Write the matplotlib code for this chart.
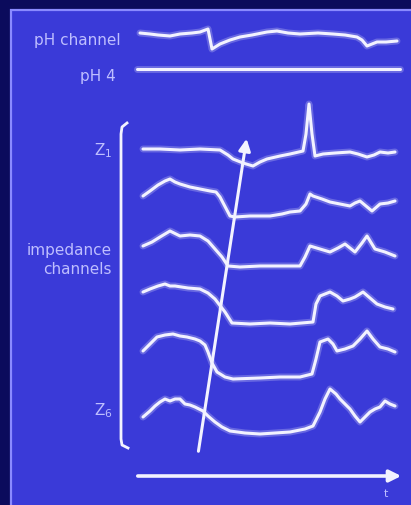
import matplotlib.pyplot as plt
from matplotlib.patches import Rectangle

# pixel-like units, y grows downwards
ph_t = [140, 150, 158, 170, 180, 192, 200, 208, 212, 220, 230, 240, 252, 267, 277, 288, 300, 318, 333, 345, 357, 362, 367, 372, 377, 386, 397]
ph_v = [34, 35, 36, 37, 35, 34, 33, 30, 50, 45, 41, 38, 36, 33, 32, 34, 35, 34, 35, 36, 38, 41, 47, 45, 43, 43, 42]

ph4_t = [137, 400]
ph4_v = [70, 70]

z_t = [
    [143, 160, 180, 200, 220, 228, 233, 243, 253, 260, 267, 280, 290, 303, 306, 309, 312, 315, 323, 335, 350, 358, 367, 374, 380, 388, 395],
    [143, 150, 158, 165, 170, 175, 180, 190, 200, 210, 216, 220, 230, 235, 250, 270, 282, 290, 300, 306, 310, 313, 322, 330, 340, 350, 355, 360, 366, 372, 380, 388, 395],
    [143, 152, 160, 170, 176, 180, 190, 200, 208, 215, 222, 228, 240, 260, 280, 300, 305, 310, 320, 330, 338, 345, 350, 355, 362, 367, 375, 385, 395],
    [143, 150, 158, 165, 170, 175, 188, 200, 208, 215, 225, 232, 250, 270, 290, 313, 316, 320, 325, 330, 337, 343, 350, 355, 363, 370, 377, 385, 393],
    [143, 150, 157, 165, 173, 180, 187, 195, 200, 205, 208, 212, 217, 225, 233, 260, 280, 300, 312, 316, 320, 328, 333, 337, 345, 353, 360, 367, 373, 380, 388, 395],
    [143, 150, 155, 160, 165, 170, 175, 180, 185, 190, 195, 203, 208, 215, 222, 230, 245, 260, 275, 290, 305, 313, 320, 325, 330, 336, 340, 345, 350, 355, 360, 365, 370, 375, 380, 385, 390, 395],
]
z_v = [
    [150, 150, 151, 150, 151, 156, 160, 164, 167, 163, 160, 157, 155, 152, 135, 105, 135, 157, 155, 154, 153, 155, 158, 156, 153, 154, 153],
    [197, 192, 186, 182, 180, 183, 185, 188, 190, 192, 193, 198, 217, 218, 217, 217, 215, 213, 212, 205, 195, 197, 200, 203, 205, 207, 204, 202, 207, 212, 205, 204, 202],
    [247, 243, 238, 232, 235, 237, 236, 237, 242, 250, 258, 267, 268, 267, 267, 267, 258, 247, 250, 253, 249, 245, 249, 253, 244, 237, 250, 253, 257],
    [293, 290, 287, 285, 287, 287, 289, 290, 294, 300, 313, 324, 325, 324, 325, 323, 305, 297, 295, 293, 297, 302, 300, 298, 293, 299, 305, 308, 310],
    [352, 345, 338, 336, 335, 337, 338, 340, 342, 346, 353, 364, 373, 378, 380, 379, 378, 378, 375, 360, 343, 340, 345, 352, 350, 347, 340, 332, 340, 348, 350, 353],
    [418, 412, 407, 403, 400, 402, 400, 400, 405, 406, 408, 412, 417, 423, 428, 432, 434, 435, 434, 433, 430, 427, 413, 400, 390, 395, 400, 405, 410, 417, 423, 418, 413, 410, 408, 402, 405, 407],
]

prop_start = (198, 455)
prop_end = (247, 137)

bg = "#3a3ad8"
dark = "#0b0b5c"
ink = "#f2f2ff"
txt = "#bebeff"

fig = plt.figure(figsize=(4.11, 5.06), dpi=100)
fig.patch.set_facecolor(dark)
ax = fig.add_axes([0, 0, 1, 1])
ax.set_xlim(0, 411)
ax.set_ylim(506, 0)
ax.axis("off")

ax.add_patch(Rectangle((11, 11), 420, 520, facecolor=bg, edgecolor="#8a8aff", lw=1.6))


def trace(t, v):
    ax.plot(t, v, color=ink, lw=5, alpha=0.25, solid_capstyle="round", solid_joinstyle="round")
    ax.plot(t, v, color=ink, lw=2.2, solid_capstyle="round", solid_joinstyle="round")


trace(ph_t, ph_v)
trace(ph4_t, ph4_v)
for t, v in zip(z_t, z_v):
    trace(t, v)

# bracket
ax.plot([127, 122, 121, 121, 122, 128], [124, 128, 135, 440, 446, 449], color=ink, lw=2, solid_joinstyle="round")

# propagation arrow
ax.annotate("", xy=prop_end, xytext=prop_start,
            arrowprops=dict(arrowstyle="-|>,head_length=0.7,head_width=0.35", color=ink, lw=2.2))

# time axis
ax.annotate("", xy=(404, 477), xytext=(135, 477),
            arrowprops=dict(arrowstyle="-|>,head_length=0.7,head_width=0.35", color=ink, lw=2.6))
ax.text(386, 494, "t", color=txt, fontsize=8, ha="center", va="center")

ax.text(121, 40, "pH channel", color=txt, fontsize=11, ha="right", va="center")
ax.text(116, 76, "pH 4", color=txt, fontsize=11, ha="right", va="center")
ax.text(112, 251, "impedance", color=txt, fontsize=11, ha="right", va="center")
ax.text(112, 270, "channels", color=txt, fontsize=11, ha="right", va="center")
ax.text(112, 151, "Z$_1$", color=txt, fontsize=11, ha="right", va="center")
ax.text(113, 411, "Z$_6$", color=txt, fontsize=11, ha="right", va="center")

fig.savefig("out.png", dpi=100, facecolor=dark)
